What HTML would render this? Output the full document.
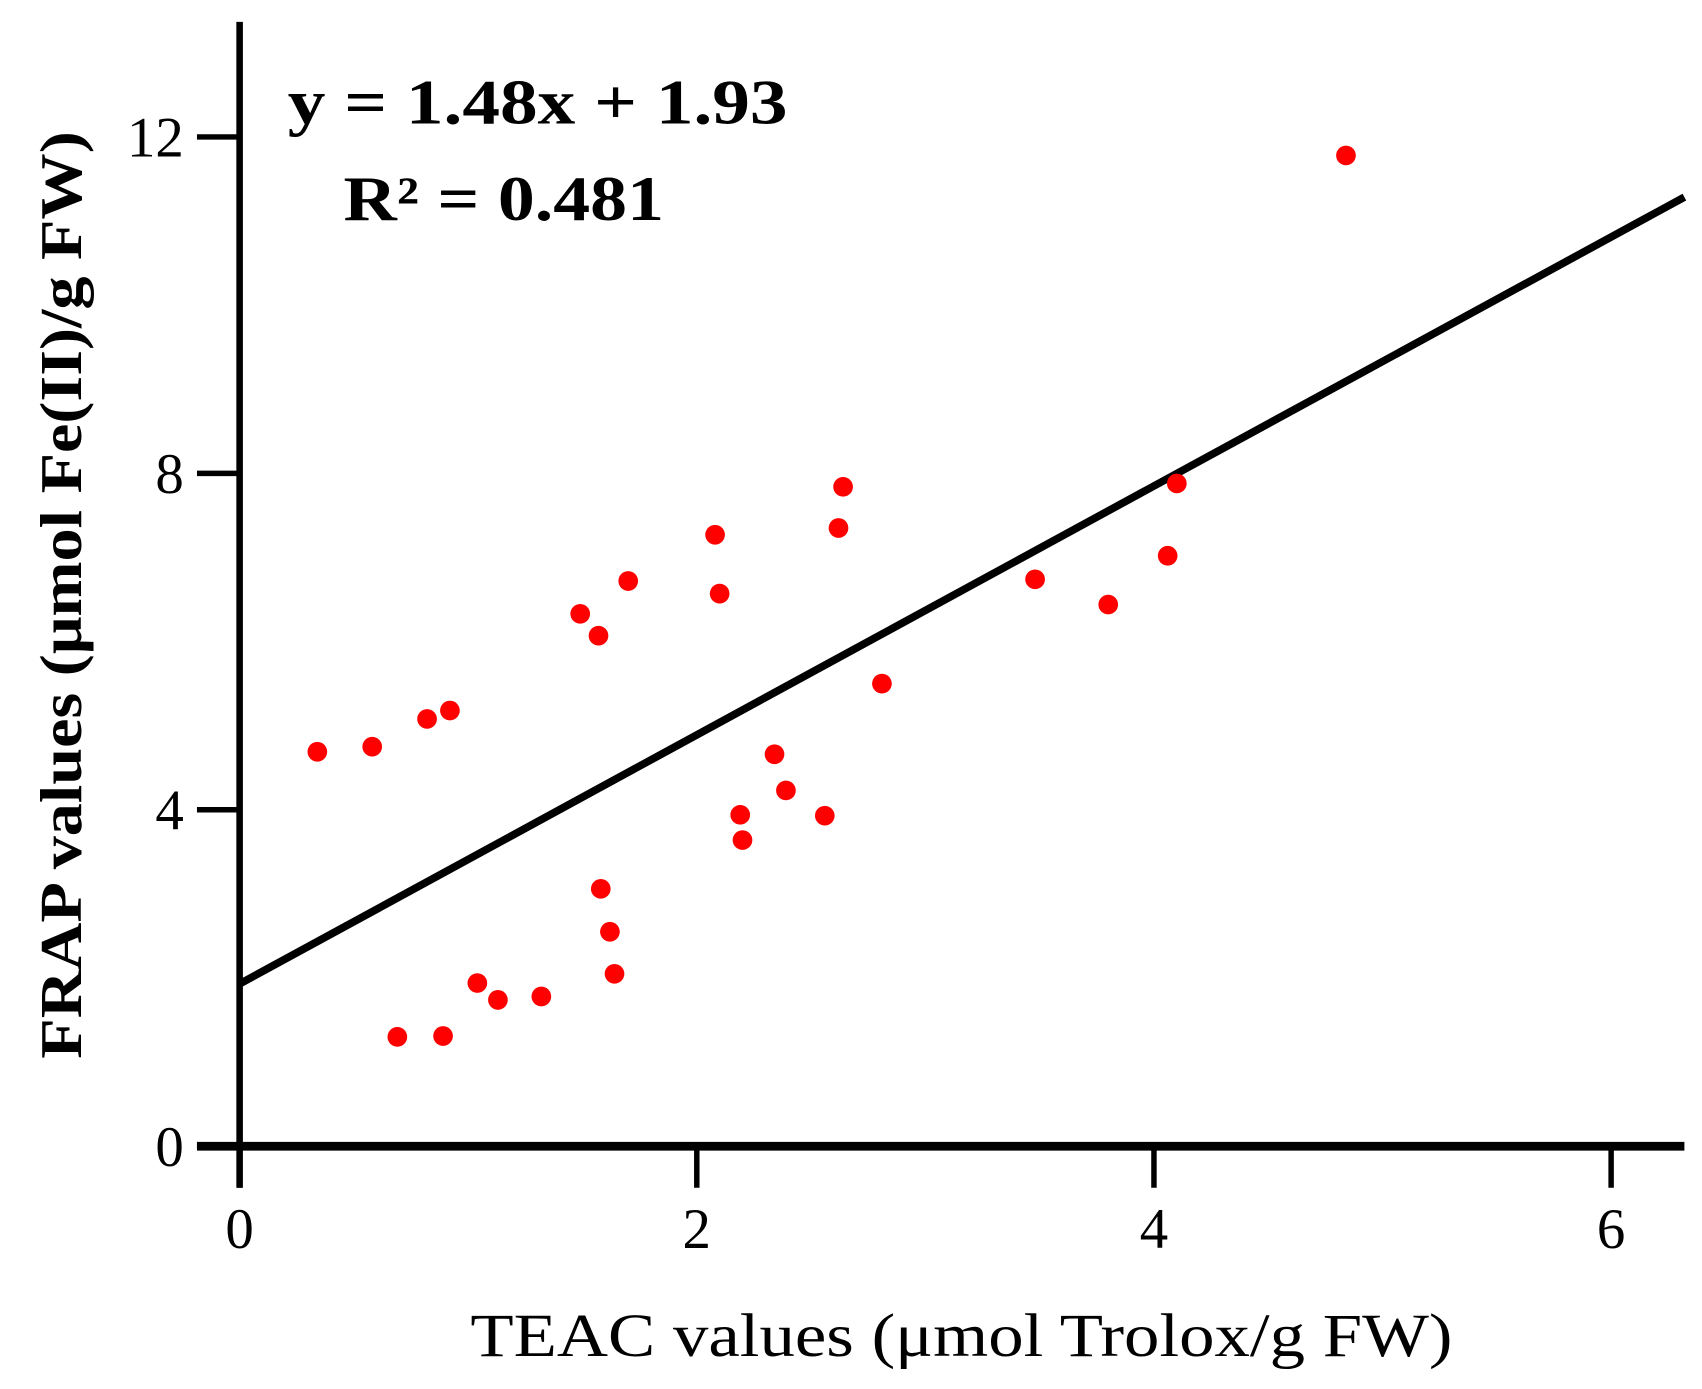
<!DOCTYPE html>
<html><head><meta charset="utf-8"><style>
html,body{margin:0;padding:0;background:#fff;}
svg{display:block;}
text{font-family:"Liberation Serif",serif;fill:#000;}
</style></head><body>
<svg id="chart" width="1702" height="1389" viewBox="0 0 1556 1270" xmlns="http://www.w3.org/2000/svg">
<g id="axes"></g>
<g id="marks"></g>
<text x="263" y="113" font-size="58" font-weight="bold" textLength="457" lengthAdjust="spacingAndGlyphs">y = 1.48x + 1.93</text>
<text x="314" y="201" font-size="58" font-weight="bold" textLength="293" lengthAdjust="spacingAndGlyphs">R² = 0.481</text>
<text x="430" y="1240" font-size="56" textLength="898" lengthAdjust="spacingAndGlyphs">TEAC values (μmol Trolox/g FW)</text>
<text transform="translate(74,968) rotate(-90)" font-size="54" font-weight="bold" textLength="848" lengthAdjust="spacingAndGlyphs">FRAP values (μmol Fe(II)/g FW)</text>
</svg>
<script>
const xVals=[0.34,0.58,0.82,0.92,0.69,0.89,1.04,1.13,1.32,1.49,1.57,1.70,1.58,1.62,1.64,2.08,2.10,2.19,2.20,2.34,2.39,2.56,2.62,2.64,2.81,3.48,3.80,4.06,4.10,4.84];
const yVals=[4.69,4.75,5.08,5.18,1.30,1.31,1.94,1.74,1.78,6.33,6.07,6.72,3.06,2.55,2.05,7.27,6.57,3.94,3.64,4.66,4.23,3.93,7.35,7.84,5.50,6.74,6.44,7.02,7.88,11.78];
const xTicks=[0,2,4,6];
const yTicks=[0,4,8,12];
const slope=1.48, intercept=1.93;
const NS="http://www.w3.org/2000/svg";
const X=v=>219+v*209, Y=v=>1048-v*76.9;
function mk(t,a,p){const e=document.createElementNS(NS,t);for(const k in a)e.setAttribute(k,a[k]);p.appendChild(e);return e;}
const ax=document.getElementById('axes'), mk2=document.getElementById('marks');
let e=mk('line',{x1:X(0),y1:20,x2:X(0),y2:1086,stroke:'#000','stroke-width':6},ax);


e=mk('line',{x1:180,y1:Y(0),x2:1540,y2:Y(0),stroke:'#000','stroke-width':8},ax);


xTicks.forEach(v=>{
 const t=mk('line',{x1:X(v),y1:Y(0),x2:X(v),y2:1086,stroke:'#000','stroke-width':5},ax);
 
 
 const l=mk('text',{x:X(v),y:1141,'font-size':52,'text-anchor':'middle'},ax);l.textContent=v;
 
 
});
yTicks.forEach(v=>{
 const t=mk('line',{x1:180,y1:Y(v),x2:X(0),y2:Y(v),stroke:'#000','stroke-width':5},ax);
 
 
 const l=mk('text',{x:168,y:Y(v)+18,'font-size':52,'text-anchor':'end'},ax);l.textContent=v;
 
 
});
const xEnd=(1540-219)/209;
e=mk('line',{x1:X(0),y1:Y(intercept),x2:X(xEnd),y2:Y(slope*xEnd+intercept),stroke:'#000','stroke-width':7},ax);


xVals.forEach((v,i)=>{
 const c=mk('circle',{cx:X(v),cy:Y(yVals[i]),r:9,fill:'#ff0000'},mk2);
 
 
});
</script>
</body></html>
